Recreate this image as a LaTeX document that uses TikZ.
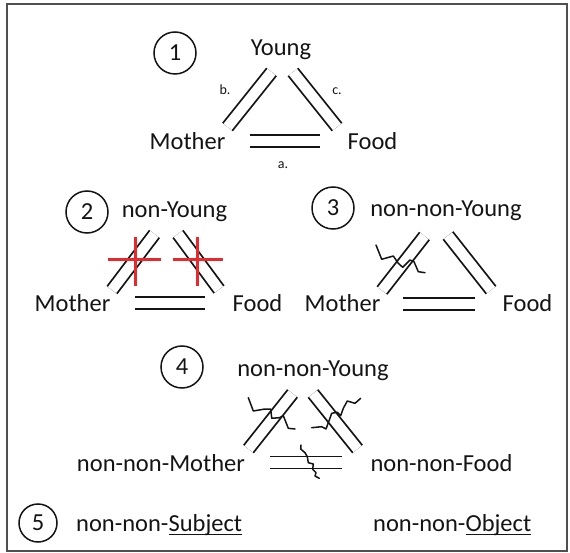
\documentclass[tikz,border=0pt]{standalone}
\usepackage{fontspec}
\setmainfont{Carlito}
\newsavebox\lowbox
% underline that sits just below the baseline, as in word-processor text
\newcommand{\lowline}[1]{\sbox\lowbox{#1}\rlap{\rule[-3.8pt]{\wd\lowbox}{1.3pt}}\usebox\lowbox}
\definecolor{ink}{HTML}{141414}
\definecolor{framegray}{HTML}{505050}
\definecolor{crossred}{HTML}{E8282B}
\begin{document}
\begin{tikzpicture}[x=1pt,y=-1pt,
  word/.style={font=\fontsize{24.5}{29}\selectfont, text=ink, inner sep=0pt, anchor=base},
  smallword/.style={font=\fontsize{14}{16}\selectfont, text=ink, inner sep=0pt, anchor=base},
  numcirc/.style={circle, draw=ink, line width=1.5pt, minimum size=42pt, inner sep=0pt,
    font=\fontsize{24.5}{29}\selectfont, text=ink},
  link/.style={draw=ink, line width=1.8pt, double=white, double distance=10.2pt},
  redmark/.style={draw=crossred, line width=3pt},
  squiggle/.style={draw=ink, line width=1.5pt, line join=round, line cap=round}]

\useasboundingbox (0,0) rectangle (570,553);
\draw[framegray, line width=2.2pt] (7,4) rectangle (567,551);

% ---- 1: Young / Mother / Food
\node[numcirc] (c1) at (175,53) {1};
\node[word] (young1) at (281,56) {Young};
\node[word] (mother1) at (187.5,150) {Mother};
\node[word] (food1) at (372.5,150) {Food};
\node[smallword] (la) at (283,169) {a.};
\node[smallword] (lb) at (225,95) {b.};
\node[smallword] (lc) at (337,95) {c.};
\coordinate (p1lt) at (271.5,72);  \coordinate (p1lb) at (227.5,127);
\coordinate (p1rt) at (293,72);    \coordinate (p1rb) at (337,127);
\coordinate (p1bl) at (250,141);   \coordinate (p1br) at (320,141);
\draw[link] (p1lt) -- (p1lb);
\draw[link] (p1rt) -- (p1rb);
\draw[link] (p1bl) -- (p1br);

% ---- 2: non-Young, both upper links struck out
\node[numcirc] (c2) at (87,212) {2};
\node[word] (young2) at (174.5,218) {non-Young};
\node[word] (mother2) at (72.5,312) {Mother};
\node[word] (food2) at (257.5,312) {Food};
\coordinate (p2lt) at (154.5,234); \coordinate (p2lb) at (112,290);
\coordinate (p2rt) at (178,234);   \coordinate (p2rb) at (219,289.5);
\coordinate (p2bl) at (135,303);   \coordinate (p2br) at (205,303);
\draw[link] (p2lt) -- (p2lb);
\draw[link] (p2rt) -- (p2rb);
\draw[link] (p2bl) -- (p2br);
\coordinate (x2l) at (135,260);
\coordinate (x2r) at (197,260);
\draw[redmark] ([xshift=-27pt]x2l) -- ([xshift=26pt]x2l);
\draw[redmark] ([yshift=23pt]x2l) -- ([yshift=-26pt]x2l);
\draw[redmark] ([xshift=-24pt]x2r) -- ([xshift=26pt]x2r);
\draw[redmark] ([yshift=23pt]x2r) -- ([yshift=-26pt]x2r);

% ---- 3: non-non-Young, one link cracked
\node[numcirc] (c3) at (333,208) {3};
\node[word] (young3) at (446,217) {non-non-Young};
\node[word] (mother3) at (342.5,312) {Mother};
\node[word] (food3) at (527.5,312) {Food};
\coordinate (p3lt) at (424.5,236); \coordinate (p3lb) at (382,290.5);
\coordinate (p3rt) at (448,235.5); \coordinate (p3rb) at (491,290);
\coordinate (p3bl) at (403,304);   \coordinate (p3br) at (475,304);
\draw[link] (p3lt) -- (p3lb);
\draw[link] (p3rt) -- (p3rb);
\draw[link] (p3bl) -- (p3br);
\draw[squiggle] (376,245) -- (381.7,259.3) -- (393.3,256) -- (398.3,263.3) -- (402.7,267.3)
  -- (410,260) -- (414,261.7) -- (418.3,271.7) -- (425,272.7);

% ---- 4: non-non-Young, all links cracked
\node[numcirc] (c4) at (182,367) {4};
\node[word] (young4) at (313,376) {non-non-Young};
\node[word] (mother4) at (161,471) {non-non-Mother};
\node[word] (food4) at (441.5,471) {non-non-Food};
\coordinate (p4lt) at (292.5,393.5); \coordinate (p4lb) at (248.5,449);
\coordinate (p4rt) at (313,393.5);   \coordinate (p4rb) at (357.5,449);
\coordinate (p4bl) at (270,462.5);   \coordinate (p4br) at (342,462.5);
\draw[link] (p4lt) -- (p4lb);
\draw[link] (p4rt) -- (p4rb);
\draw[link] (p4bl) -- (p4br);
\draw[squiggle] (248.3,397.7) -- (253.3,411) -- (265,409) -- (270.7,409) -- (271.7,418.3)
  -- (279.3,417.7) -- (283.3,415.7) -- (288.3,428.3) -- (295,429);
\draw[squiggle] (311.7,427.7) -- (321.7,426.7) -- (326,429) -- (329.3,420) -- (331.7,413.3)
  -- (337.3,412.3) -- (340.7,415.7) -- (343.3,408.3) -- (347.3,401) -- (355,403.3) -- (360.7,398.3);
\draw[squiggle] (301,445) -- (300.7,449) -- (305,452.7) -- (307.3,456.7) -- (308.3,462.7)
  -- (313.3,464) -- (312.7,469.3) -- (316,472.7) -- (315,476) -- (319.3,478.3);

% ---- 5: subject / object
\node[numcirc, minimum size=38pt] (c5) at (38,523) {5};
\node[word, anchor=base west] (subj) at (76,531) {non-non-\lowline{Subject}};
\node[word, anchor=base west] (obj) at (373,531) {non-non-\lowline{Object}};
\end{tikzpicture}
\end{document}
